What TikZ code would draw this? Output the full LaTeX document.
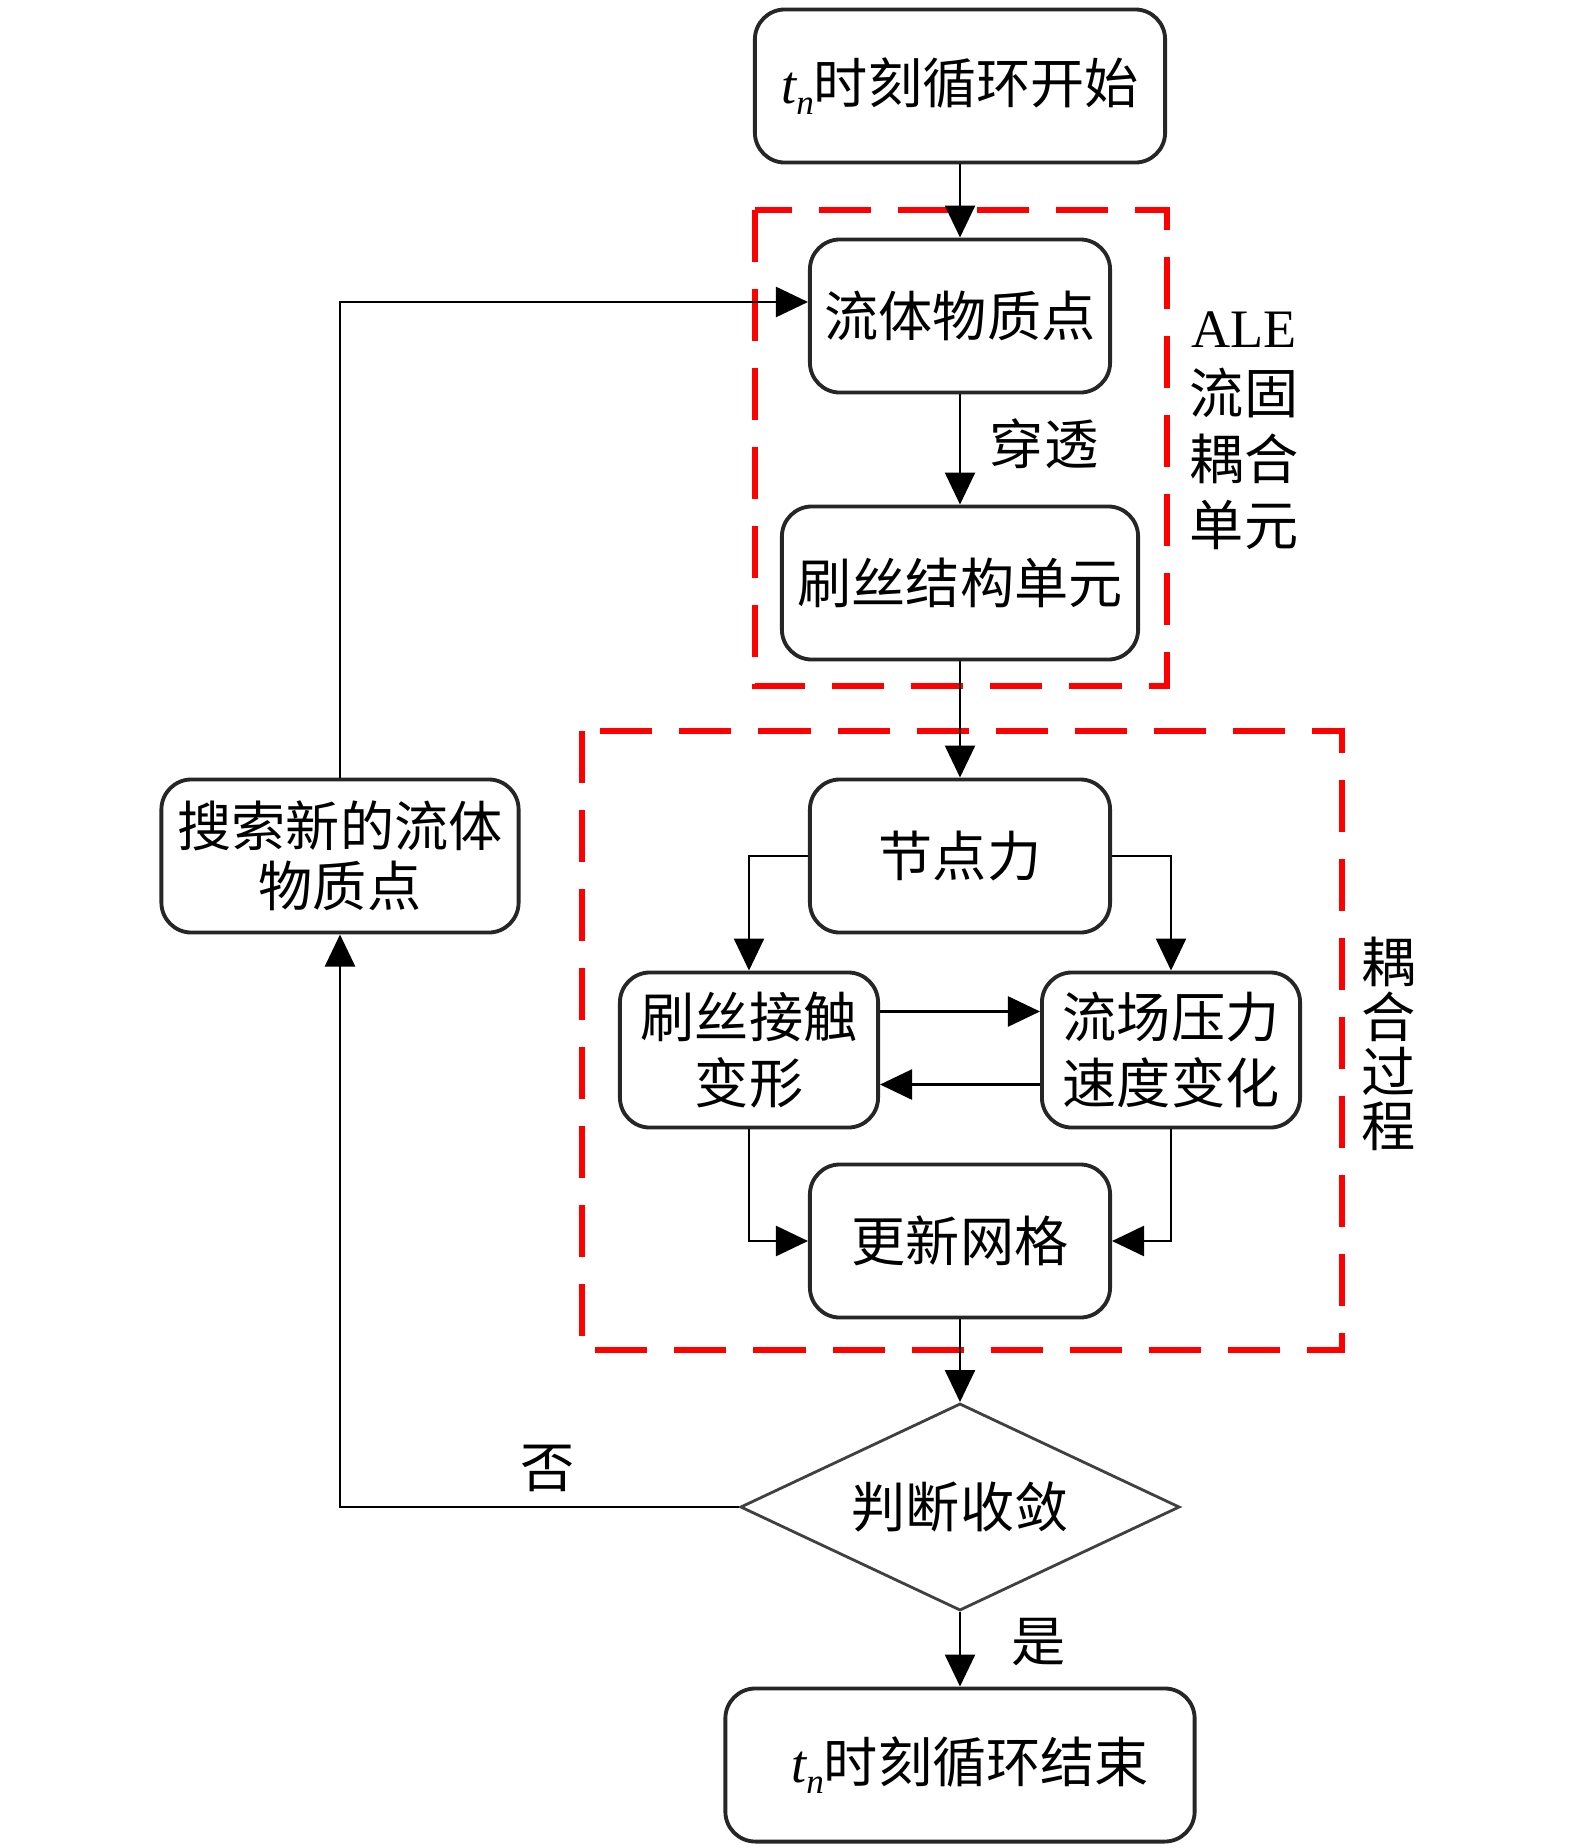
\documentclass[tikz,border=0pt]{standalone}
\usepackage{fontspec}
\setmainfont{Liberation Serif}
\newfontfamily\cjk{Noto Sans CJK SC}
\usetikzlibrary{arrows.meta,shapes.geometric}
\newcommand{\tsub}{{\rmfamily\itshape t\raisebox{-0.45ex}{\fontsize{10}{10}\selectfont n}}}

\begin{document}
\begin{tikzpicture}[
  x=0.01cm, y=-0.01cm,
  every node/.style={font=\cjk\fontsize{15.4}{18.8}\selectfont},
  box/.style={draw=black!85, line width=1.1pt, rounded corners=0.3cm, minimum height=1.53cm, inner sep=2pt, align=center},
  test/.style={diamond, draw=black!75, line width=0.8pt, aspect=2.12, minimum width=4.39cm, minimum height=2.07cm, inner sep=0pt},
  link/.style={-{Triangle[width=0.3cm,length=0.32cm]}, line width=0.7pt},
  group/.style={draw=red, line width=1.8pt, dash pattern=on 0.52cm off 0.27cm},
  note/.style={align=center, inner sep=0pt},
  vnote/.style={note, font=\cjk\fontsize{15.4}{15.6}\selectfont},
]
\useasboundingbox (0,0) rectangle (1575,1848);

% --- dashed groups ---
\draw[group] (755,210) rectangle (1167,686);
\draw[group] (582,731) rectangle (1342,1350);

% --- main column ---
\node[box, minimum width=4.10cm] (start) at (960,86) {\tsub 时刻循环开始};
\node[box, minimum width=3.00cm] (fluid) at (960,316) {流体物质点};
\node[box, minimum width=3.56cm] (brush) at (960,583) {刷丝结构单元};
\node[box, minimum width=3.00cm] (force) at (960,856) {节点力};
\node[box, minimum width=2.58cm, minimum height=1.55cm] (contact) at (749,1050) {刷丝接触\\变形};
\node[box, minimum width=2.58cm, minimum height=1.55cm] (flow) at (1171,1050) {流场压力\\速度变化};
\node[box, minimum width=3.00cm] (remesh) at (960,1241) {更新网格};
\node[test] (conv) at (960,1507) {判断收敛};
\node[box, minimum width=4.69cm] (finish) at (960,1765) {\hspace{0.2cm}\tsub 时刻循环结束};
\node[box, minimum width=3.57cm] (search) at (340,856) {\raisebox{-0.1cm}{\shortstack{搜索新的流体\\物质点}}};

% --- labels ---
\node[note] (ale) at (1244,431) {\rmfamily ALE\\流固\\耦合\\单元};
\node[vnote] (cpl) at (1389,1044) {耦\\合\\过\\程};

% --- connectors ---
\draw[link] (start) -- (fluid);
\draw[link] (fluid) -- node[right=0.17cm, pos=0.45] (pen) {穿透} (brush);
\draw[link] (brush) -- (force);
\draw[link] (force.west) -| (contact.north);
\draw[link] (force.east) -| (flow.north);
\draw[link] ([yshift=0.385cm]contact.east) -- ([yshift=0.385cm]flow.west);
\draw[link] ([yshift=-0.345cm]flow.west) -- ([yshift=-0.345cm]contact.east);
\draw[link] (contact.south) |- (remesh.west);
\draw[link] (flow.south) |- (remesh.east);
\draw[link] (remesh) -- (conv);
\draw[link] (conv) -- node[right=0.39cm, pos=0.4] (yes) {是} (finish);
\draw[link] (conv.west) -| node[above=0.02cm, pos=0.24] (no) {否} (search.south);
\draw[link] (search.north) |- ([yshift=0.14cm]fluid.west);

\end{tikzpicture}
\end{document}
